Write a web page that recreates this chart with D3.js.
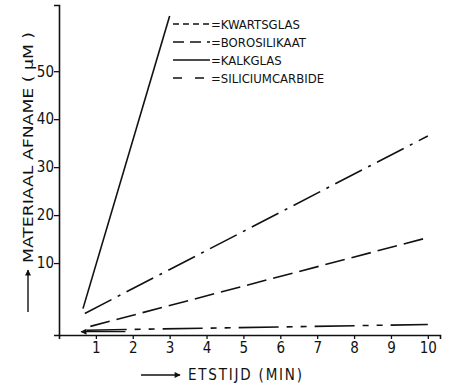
<!DOCTYPE html>
<html>
<head>
<meta charset="utf-8">
<script src="https://cdn.jsdelivr.net/npm/d3@7"></script>
<style>
  body { margin: 0; background: #fff; }
  text { fill: #111; font-family: "DejaVu Sans Condensed", "Liberation Sans Narrow", "Liberation Sans", sans-serif; }
</style>
</head>
<body>
<div id="chart"></div>
<script>
// legend order as printed
var legendNames = ["KWARTSGLAS", "BOROSILIKAAT", "KALKGLAS", "SILICIUMCARBIDE"];
var legendDash = ["6,4", "11,6", null, "9,13"];

// lines in the plot (start / end points)
var kalkglasX = [0.65, 3.0];
var kalkglasY = [0.5, 61.5];
var borosilikaatX = [0.7, 10.0];
var borosilikaatY = [-0.5, 36.5];
var kwartsglasX = [0.85, 10.0];
var kwartsglasY = [-3.2, 15.3];
var siliciumX = [0.75, 10.0];
var siliciumY = [-4.0, -2.8];

var xTicks = [1, 2, 3, 4, 5, 6, 7, 8, 9, 10];
var yTicks = [10, 20, 30, 40, 50];

const W = 452, H = 388;

var svg = d3.select("#chart").append("svg")
    .attr("width", W)
    .attr("height", H);

var defs = svg.append("defs");
defs.append("marker")
    .attr("id", "head")
    .attr("viewBox", "0 0 10 10")
    .attr("refX", 9).attr("refY", 5)
    .attr("markerWidth", 9).attr("markerHeight", 6)
    .attr("markerUnits", "userSpaceOnUse")
    .attr("orient", "auto")
    .append("path")
    .attr("d", "M0,0 L10,5 L0,10 z")
    .attr("fill", "#111");

var xScale = d3.scaleLinear().domain([0, 10.33]).range([59, 440]);
var yScale = d3.scaleLinear().domain([-5, 63.8]).range([335, 5]);

// axes
var xAxis = d3.axisBottom(xScale).tickValues(xTicks).tickSize(4).tickFormat(d3.format("d"));
var yAxis = d3.axisLeft(yScale).tickValues(yTicks).tickSize(5).tickFormat(d3.format("d"));

var gx = svg.append("g")
    .attr("transform", "translate(0," + yScale(-5) + ")")
    .call(xAxis);
var gy = svg.append("g")
    .attr("transform", "translate(" + xScale(0) + ",0)")
    .call(yAxis);

[gx, gy].forEach(function(g) {
    g.select(".domain").attr("stroke", "#111").attr("stroke-width", 1.6);
    g.selectAll(".tick line").attr("stroke", "#111").attr("stroke-width", 1.3);
    g.selectAll(".tick text").style("font-size", "15px").attr("fill", "#111");
});
gx.selectAll(".tick text").attr("dy", "0.74em");
gy.selectAll(".tick text").attr("x", -5);

// data lines
var line = d3.line()
    .x(function(d) { return xScale(d[0]); })
    .y(function(d) { return yScale(d[1]); });

var series = [
    {x: kalkglasX, y: kalkglasY, dash: null},
    {x: borosilikaatX, y: borosilikaatY, dash: "30,7,3,7"},
    {x: kwartsglasX, y: kwartsglasY, dash: "20,7"},
    {x: siliciumX, y: siliciumY, dash: "40,8,6,8,6,8"}
];

series.forEach(function(s, i) {
    var pts = d3.zip(s.x, s.y);
    svg.append("path")
        .attr("d", line(pts))
        .attr("fill", "none")
        .attr("stroke", "#111")
        .attr("stroke-width", 1.6)
        .attr("stroke-dasharray", s.dash);
});

// small arrow at the start of the lowest line
svg.append("line")
    .attr("x1", xScale(1.8)).attr("y1", yScale(-4.3))
    .attr("x2", xScale(0.6)).attr("y2", yScale(-4.3))
    .attr("stroke", "#111").attr("stroke-width", 1.4)
    .attr("marker-end", "url(#head)");

// legend
var legend = svg.append("g");
legendNames.forEach(function(name, i) {
    var y = 24 + i * 18;
    legend.append("line")
        .attr("x1", 173).attr("x2", 210)
        .attr("y1", y).attr("y2", y)
        .attr("stroke", "#111")
        .attr("stroke-width", 1.5)
        .attr("stroke-dasharray", legendDash[i]);
    legend.append("text")
        .attr("x", 211).attr("y", y)
        .attr("dy", "0.35em")
        .style("font-size", "13px")
        .text("=" + name);
});

// axis titles
svg.append("line")
    .attr("x1", 141).attr("x2", 180)
    .attr("y1", 375).attr("y2", 375)
    .attr("stroke", "#111").attr("stroke-width", 1.4)
    .attr("marker-end", "url(#head)");
svg.append("text")
    .attr("x", 188).attr("y", 375)
    .attr("dy", "0.36em")
    .style("font-size", "15px")
    .attr("textLength", 114)
    .attr("lengthAdjust", "spacing")
    .text("ETSTIJD (MIN)");

svg.append("line")
    .attr("x1", 28).attr("x2", 28)
    .attr("y1", 312).attr("y2", 270)
    .attr("stroke", "#111").attr("stroke-width", 1.4)
    .attr("marker-end", "url(#head)");
svg.append("text")
    .attr("transform", "translate(28,263) rotate(-90)")
    .attr("dy", "0.36em")
    .style("font-size", "14px")
    .attr("textLength", 231)
    .attr("lengthAdjust", "spacingAndGlyphs")
    .text("MATERIAAL AFNAME ( \u00b5M )");
</script>
</body>
</html>
